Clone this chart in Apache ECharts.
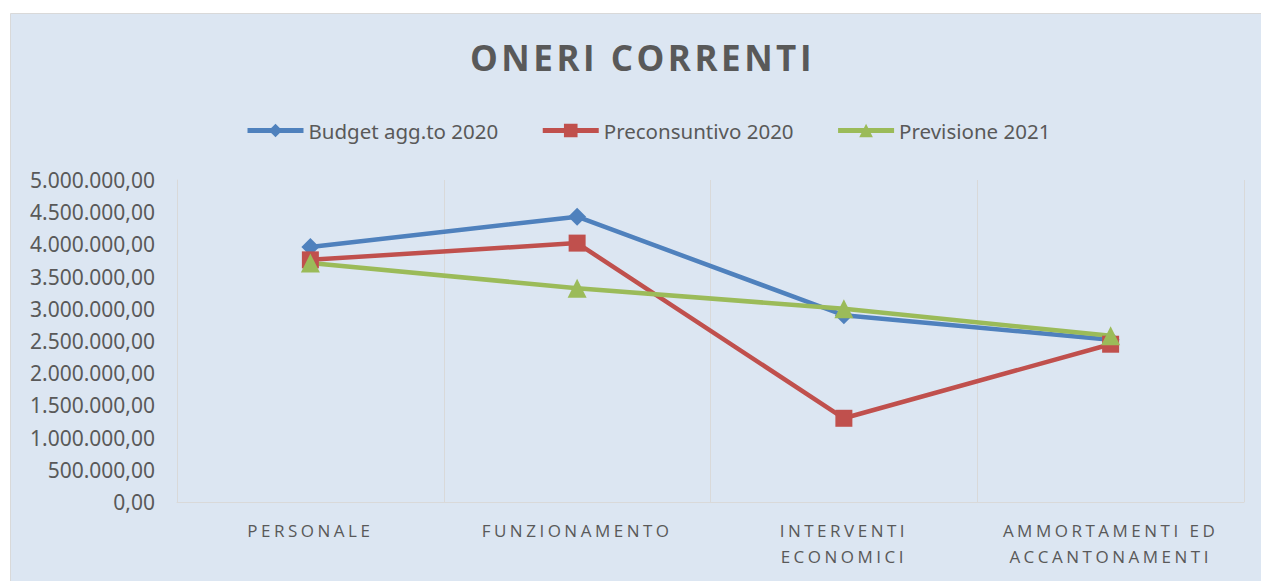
<!DOCTYPE html>
<html>
<head>
<meta charset="utf-8">
<script src="https://cdn.jsdelivr.net/npm/echarts@6/dist/echarts.min.js"></script>
<style>
  html, body { margin: 0; padding: 0; background: #ffffff; }
  #chart { width: 1261px; height: 581px; }
  /* spaced caps for title and category labels */
  #chart text[style*="Open Sans"], #chart text[font-family*="Open Sans"] { letter-spacing: 3.5px; }
</style>
</head>
<body>
<div id="chart"></div>
<script>
let categories = ["PERSONALE", "FUNZIONAMENTO", "INTERVENTI\nECONOMICI", "AMMORTAMENTI ED\nACCANTONAMENTI"];
let budget2020 = [3960000, 4430000, 2900000, 2520000];
let preconsuntivo2020 = [3760000, 4020000, 1300000, 2450000];
let previsione2021 = [3710000, 3320000, 3000000, 2580000];

function formatIt(v) {
  let s = Math.round(v).toString().replace(/\B(?=(\d{3})+(?!\d))/g, ".");
  return s + ",00";
}

let chart = echarts.init(document.getElementById("chart"), null, { renderer: "svg" });
chart.setOption({
  animation: false,
  graphic: [{
    type: "rect",
    z: -10,
    shape: { x: 10.5, y: 13.5, width: 1270, height: 600 },
    style: { fill: "#dce6f2", stroke: "#d9d9d9", lineWidth: 1 }
  }],
  title: {
    text: "ONERI CORRENTI",
    left: 465,
    top: 35,
    textStyle: { fontFamily: "Open Sans", fontSize: 35, fontWeight: "bold", color: "#595959" }
  },
  legend: {
    top: 115,
    left: 240,
    itemWidth: 56,
    itemHeight: 17,
    itemGap: 42,
    lineStyle: { width: 5 },
    textStyle: { fontFamily: "Noto Sans", fontSize: 20.5, color: "#595959" },
    data: ["Budget agg.to 2020", "Preconsuntivo 2020", "Previsione 2021"]
  },
  grid: { left: 177, right: 17, top: 180, bottom: 79, containLabel: false },
  xAxis: {
    type: "category",
    data: categories,
    boundaryGap: true,
    axisLine: { lineStyle: { color: "#d9d9d9", width: 1 } },
    axisTick: { show: false },
    splitLine: { show: true, lineStyle: { color: "#d9d9d9", width: 1 } },
    axisLabel: { fontFamily: "Open Sans", fontSize: 17, color: "#595959", margin: 15, lineHeight: 26 }
  },
  yAxis: {
    type: "value",
    min: 0,
    max: 5000000,
    interval: 500000,
    axisLine: { show: true, lineStyle: { color: "#d9d9d9", width: 1 } },
    axisTick: { show: false },
    splitLine: { show: false },
    axisLabel: { fontFamily: "Noto Sans", fontSize: 21, color: "#595959", margin: 22, formatter: formatIt }
  },
  series: [
    {
      name: "Budget agg.to 2020", type: "line", data: budget2020,
      symbol: "diamond", symbolSize: 18,
      lineStyle: { color: "#4f81bd", width: 4.5 },
      itemStyle: { color: "#4f81bd" }
    },
    {
      name: "Preconsuntivo 2020", type: "line", data: preconsuntivo2020,
      symbol: "rect", symbolSize: 17,
      lineStyle: { color: "#c0504d", width: 4.5 },
      itemStyle: { color: "#c0504d" }
    },
    {
      name: "Previsione 2021", type: "line", data: previsione2021,
      symbol: "triangle", symbolSize: 19,
      lineStyle: { color: "#9bbb59", width: 4.5 },
      itemStyle: { color: "#9bbb59" }
    }
  ]
});
</script>
</body>
</html>
